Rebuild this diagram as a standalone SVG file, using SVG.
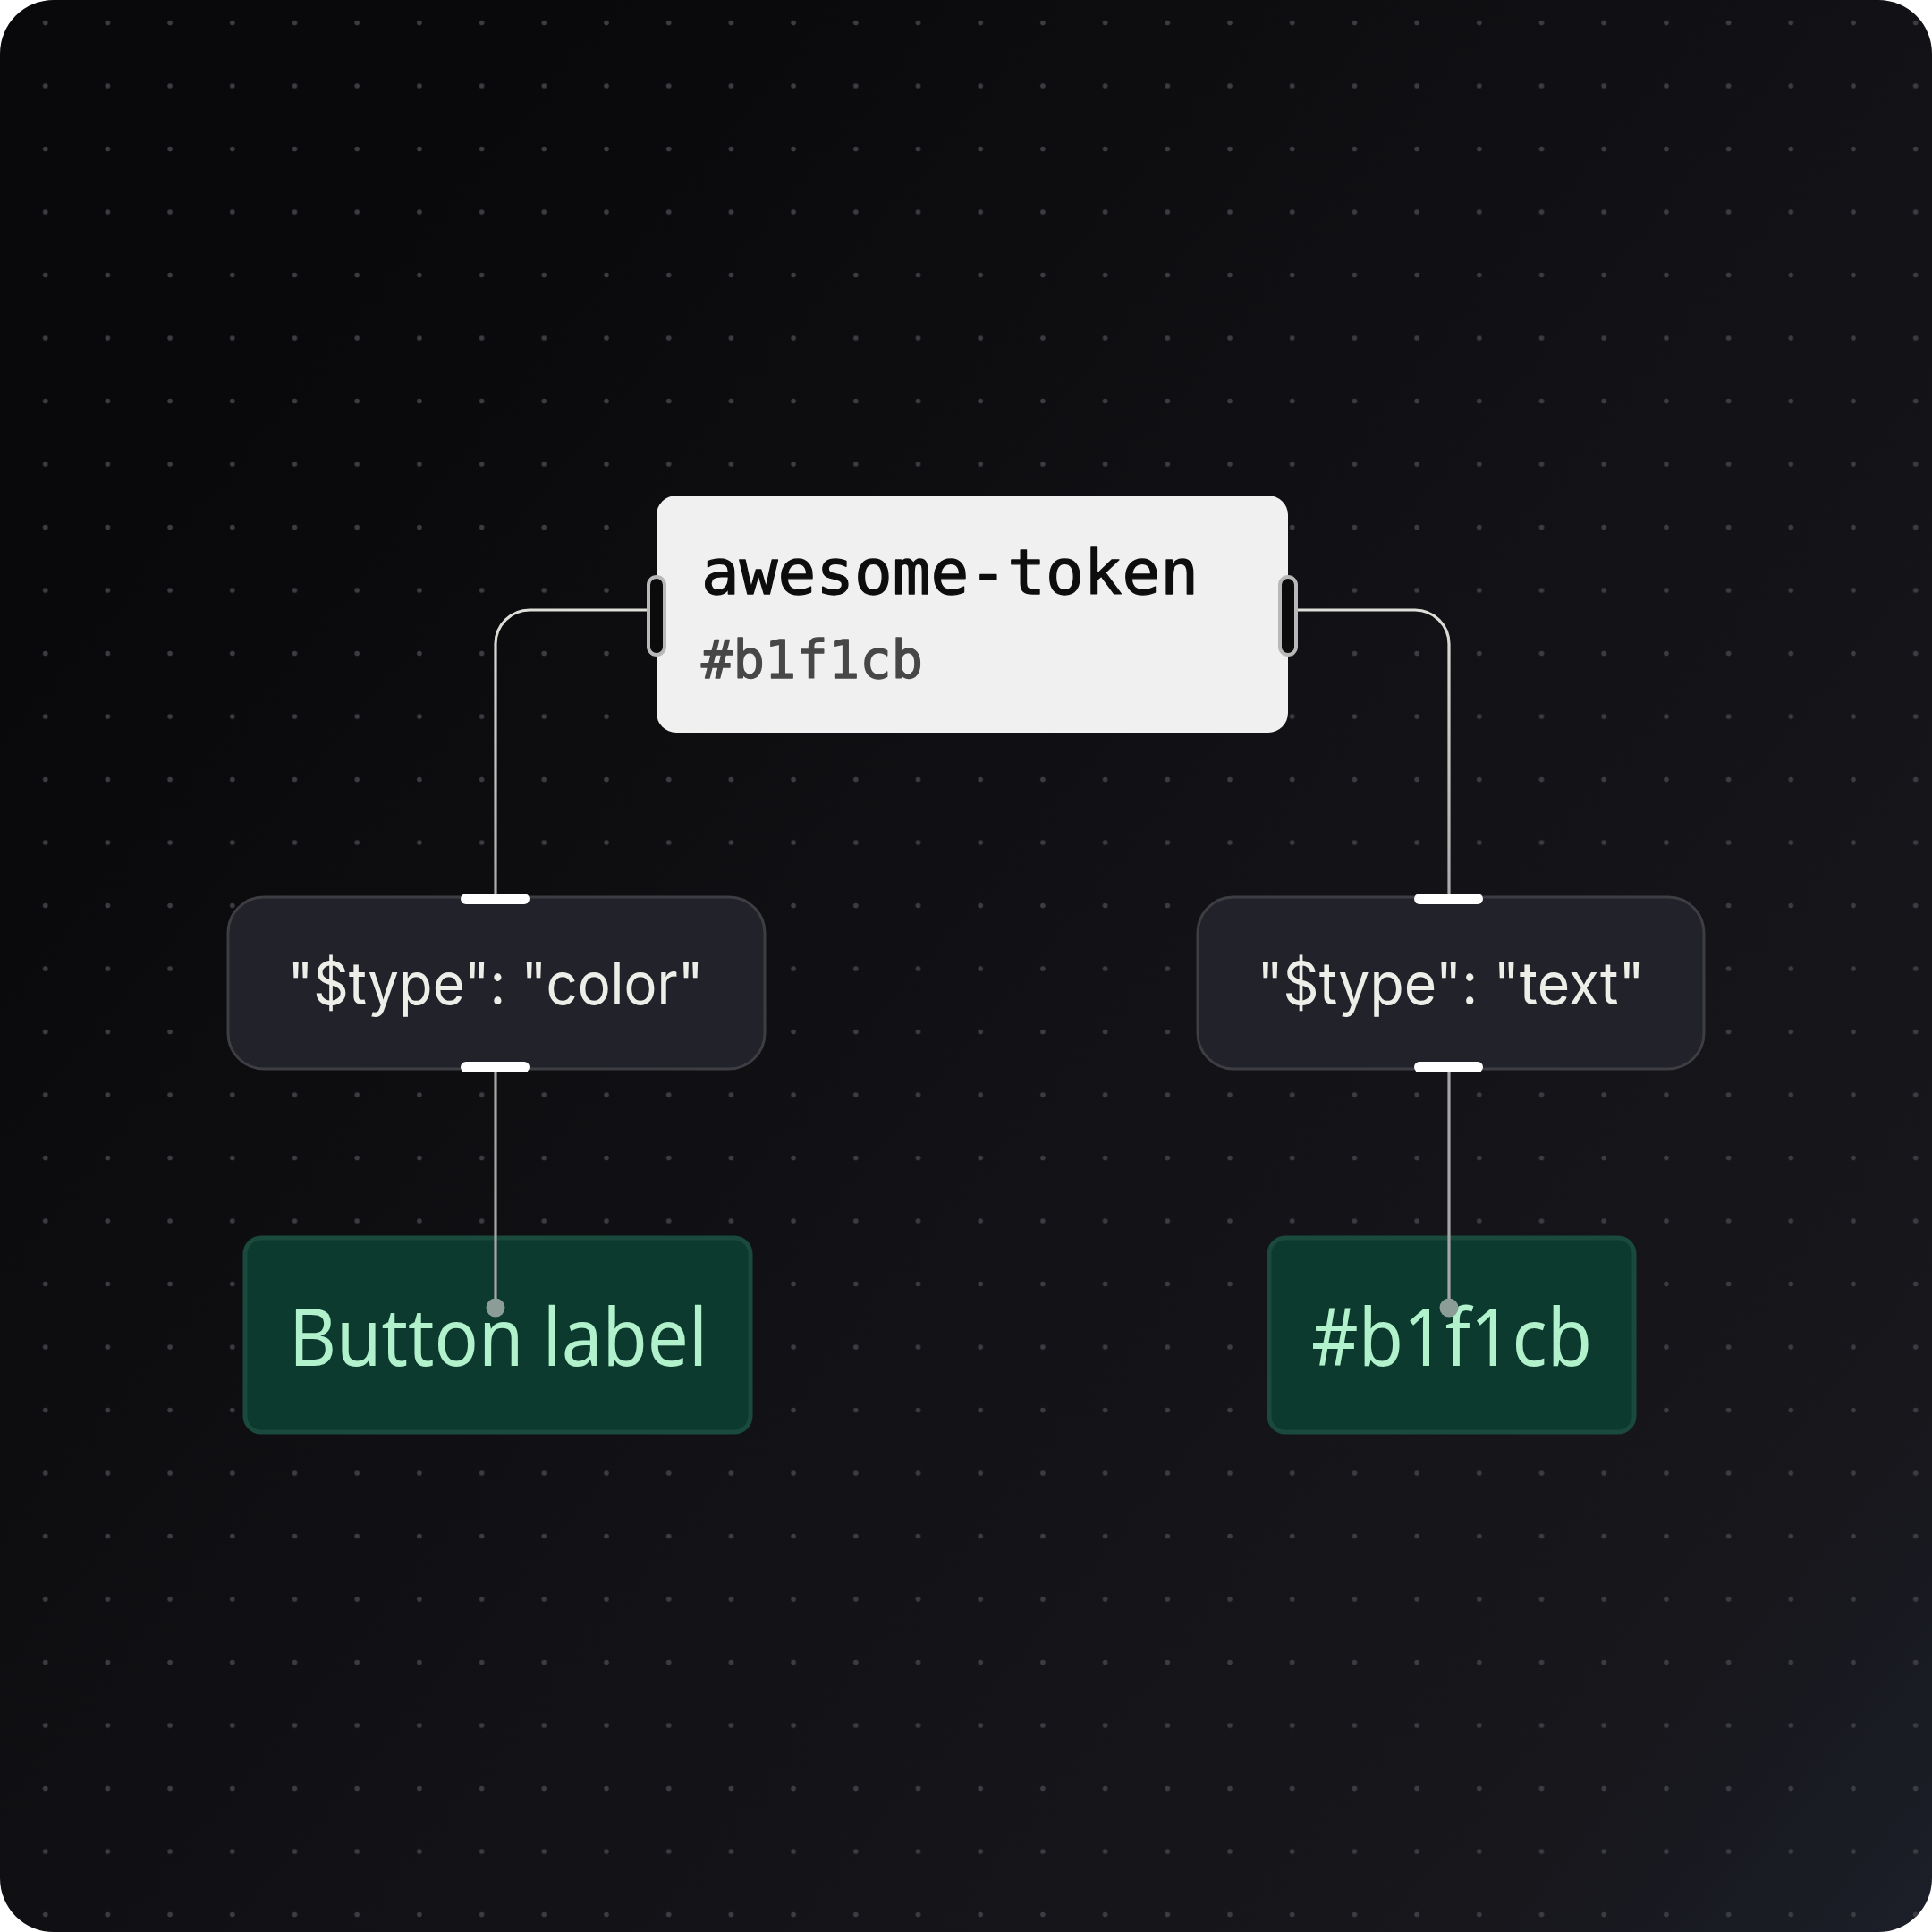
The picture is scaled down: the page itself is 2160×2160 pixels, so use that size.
<svg xmlns="http://www.w3.org/2000/svg" width="2160" height="2160" viewBox="0 0 2160 2160">
  <defs>
    <linearGradient id="bg" x1="0.1" y1="0.25" x2="1" y2="1">
      <stop offset="0" stop-color="#09090b"/>
      <stop offset="0.45" stop-color="#121216"/>
      <stop offset="0.85" stop-color="#17171c"/>
      <stop offset="1" stop-color="#1c1f29"/>
    </linearGradient>
    <linearGradient id="wireTop" gradientUnits="userSpaceOnUse" x1="0" y1="660" x2="0" y2="1000">
      <stop offset="0" stop-color="#e2e2dc"/>
      <stop offset="1" stop-color="#aaaaaa"/>
    </linearGradient>
    <pattern id="dots" patternUnits="userSpaceOnUse" x="15.85" y="60.75" width="69.7" height="70.5">
      <circle cx="34.85" cy="35.25" r="2.8" fill="#3c3c43"/>
    </pattern>
    <clipPath id="frame">
      <rect x="0" y="0" width="2160" height="2160" rx="60" ry="60"/>
    </clipPath>
  </defs>
  <style>
    .wire { fill: none; stroke-width: 3.2; stroke-linecap: butt; }
    .handleV { fill: #0b0b0b; stroke: #b8b8b8; stroke-width: 4; }
    .pill { fill: #ffffff; }
    .mid { fill: #22222a; stroke: #3d3d43; stroke-width: 3; }
    .leaf { fill: #0c3a2e; stroke: #1a4a3c; stroke-width: 5; }
    .midText { font-family: Inter, "Liberation Sans", sans-serif; font-size: 66px; fill: #eeeee8; text-anchor: middle; }
    .leafText { font-family: "Noto Sans", "Open Sans", sans-serif; font-size: 89px; fill: #b1f1cb; text-anchor: middle; }
    .mono { font-family: "DejaVu Sans Mono", "Liberation Mono", monospace; stroke-width: 1.3; stroke-linejoin: round; }
    .endpoint { fill: #8c9c96; }
  </style>

  <rect x="0" y="0" width="2160" height="2160" fill="#ffffff"/>
  <g id="background" clip-path="url(#frame)">
    <rect x="0" y="0" width="2160" height="2160" fill="url(#bg)"/>
    <rect x="0" y="0" width="2160" height="2160" fill="url(#dots)"/>
  </g>

  <g id="node-token">
    <rect x="734" y="554" width="706" height="265" rx="22" ry="22" fill="#f0f0f0"/>
    <text class="mono" x="784" y="664" font-size="70" fill="#0d0d0d" stroke="#0d0d0d" textLength="556" lengthAdjust="spacingAndGlyphs">awesome-token</text>
    <text class="mono" x="784" y="758" font-size="58" fill="#474747" stroke="#474747" textLength="248" lengthAdjust="spacingAndGlyphs">#b1f1cb</text>
  </g>

  <g id="node-type-color">
    <rect class="mid" x="255" y="1003" width="600" height="192" rx="40" ry="40"/>
    <text class="midText" x="554" y="1123" textLength="465" lengthAdjust="spacingAndGlyphs">"$type": "color"</text>
  </g>

  <g id="node-type-text">
    <rect class="mid" x="1339" y="1003" width="566" height="192" rx="40" ry="40"/>
    <text class="midText" x="1622" y="1123" textLength="433" lengthAdjust="spacingAndGlyphs">"$type": "text"</text>
  </g>

  <g id="node-button-label">
    <rect class="leaf" x="274" y="1384" width="565" height="217" rx="18" ry="18"/>
    <text class="leafText" x="557" y="1527" textLength="468" lengthAdjust="spacingAndGlyphs">Button label</text>
  </g>

  <g id="node-color-value">
    <rect class="leaf" x="1419" y="1384" width="408" height="217" rx="18" ry="18"/>
    <text class="leafText" x="1623" y="1527" textLength="314" lengthAdjust="spacingAndGlyphs">#b1f1cb</text>
  </g>

  <g id="connectors">
    <path class="wire" stroke="url(#wireTop)" d="M 726 682 L 592 682 A 38 38 0 0 0 554 720 L 554 1000"/>
    <path class="wire" stroke="url(#wireTop)" d="M 1448 682 L 1582 682 A 38 38 0 0 1 1620 720 L 1620 1000"/>
    <path class="wire" stroke="#a6a6a6" d="M 554 1198 L 554 1462"/>
    <path class="wire" stroke="#a6a6a6" d="M 1620 1198 L 1620 1462"/>
    <circle class="endpoint" cx="554" cy="1462" r="10.5"/>
    <circle class="endpoint" cx="1620" cy="1462" r="10.5"/>
  </g>

  <g id="ports">
    <rect class="handleV" x="725" y="645" width="18" height="87" rx="9" ry="9"/>
    <rect class="handleV" x="1431" y="645" width="18" height="87" rx="9" ry="9"/>
    <rect class="pill" x="515" y="999" width="77" height="12" rx="6" ry="6"/>
    <rect class="pill" x="515" y="1187" width="77" height="12" rx="6" ry="6"/>
    <rect class="pill" x="1581" y="999" width="77" height="12" rx="6" ry="6"/>
    <rect class="pill" x="1581" y="1187" width="77" height="12" rx="6" ry="6"/>
  </g>
</svg>
